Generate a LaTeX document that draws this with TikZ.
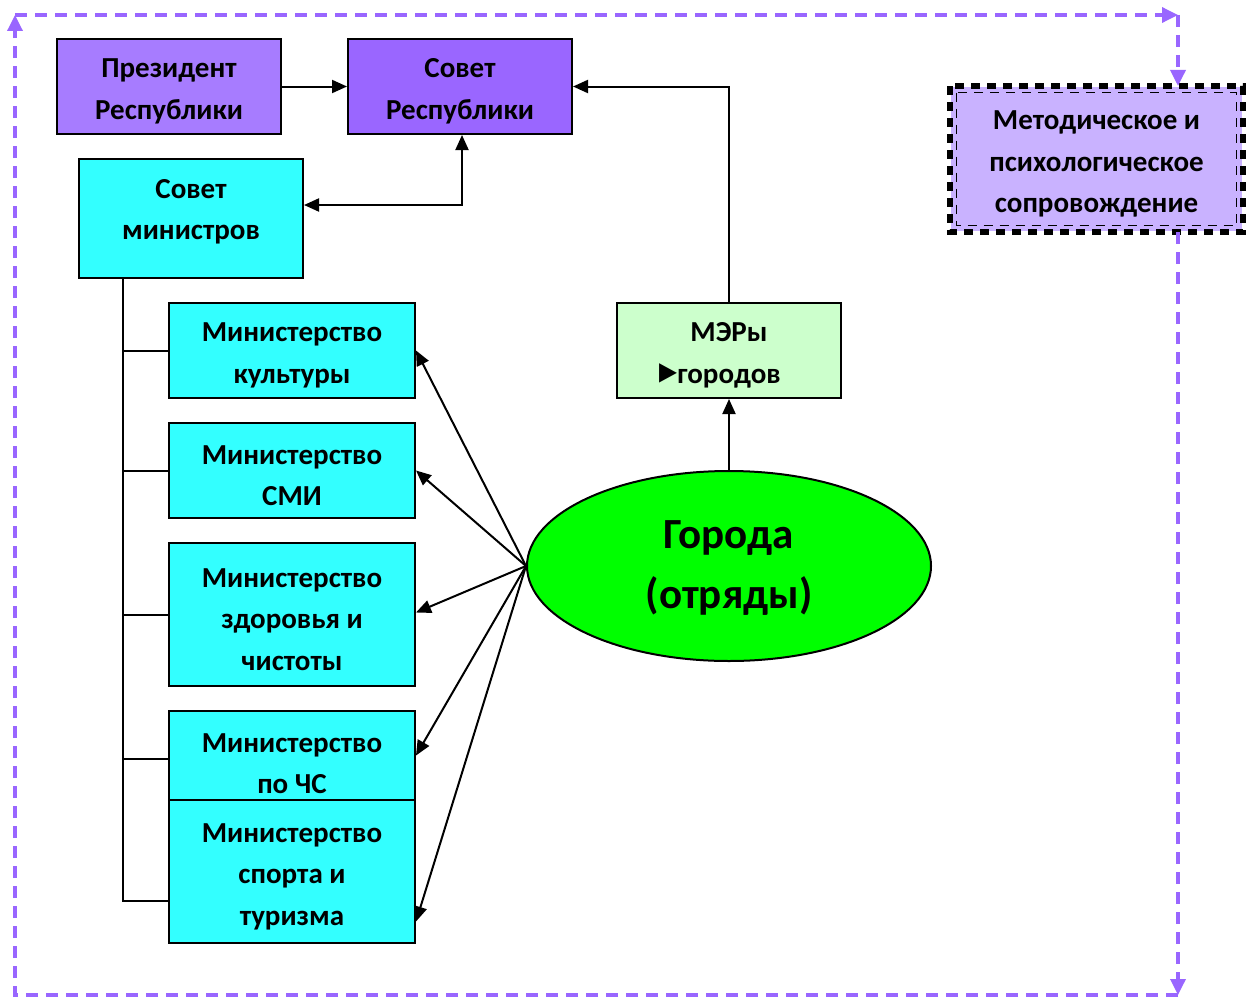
\documentclass[tikz,border=0pt]{standalone}
\usepackage{fontspec}
\setmainfont{Carlito}
\newfontfamily\dejavu{DejaVu Sans}
\usetikzlibrary{arrows.meta,shapes.geometric}
\definecolor{presfill}{HTML}{A77CFF}
\definecolor{sovfill}{HTML}{9A66FF}
\definecolor{cyanfill}{HTML}{33FFFF}
\definecolor{merfill}{HTML}{CCFFCC}
\definecolor{ellfill}{HTML}{00FF00}
\definecolor{metfill}{HTML}{C9B2FF}
\definecolor{loopcol}{HTML}{9966FF}
\begin{document}
\begin{tikzpicture}[x=1pt,y=-1pt,
  txt/.style={font=\fontsize{29}{41.5}\selectfont\bfseries, align=center, inner sep=0pt},
  plainbox/.style={draw=black, line width=2pt, minimum width=224pt, minimum height=95pt, inner sep=0pt},
  box/.style={plainbox, label={[txt, yshift=-5pt]center:#1}},
  mbox/.style={box={#1}, fill=cyanfill, minimum width=246pt},
  arr/.style={line width=2pt, -{Triangle[length=15pt,width=13pt]}},
  loop/.style={draw=loopcol, line width=3.4pt, dash pattern=on 12pt off 8pt, -{Triangle[length=16pt,width=15pt]}},
  dblframe/.style={draw=black, dash pattern=on 9pt off 7pt}]
\useasboundingbox (0,0) rectangle (1247,998);

% top boxes
\node[box={Президент\\Республики}, fill=presfill] (pres) at (169,86.5) {};
\node[box={Совет\\Республики}, fill=sovfill] (sr) at (460,86.5) {};
\node[plainbox, fill=cyanfill, minimum height=119pt] (sm) at (191,218.5) {};
\node[txt] (smt) at ([yshift=6.5pt]sm.center) {Совет\\министров};

% ministries
\node[mbox={Министерство\\культуры}] (kult) at (292,350.5) {};
\node[mbox={Министерство\\СМИ}] (smi) at (292,470.5) {};
\node[mbox={Министерство\\здоровья и\\чистоты}, minimum height=143pt] (zdr) at (292,614.5) {};
\node[mbox={Министерство\\по ЧС}] (chs) at (292,758.5) {};
\node[mbox={Министерство\\спорта и\\туризма}, minimum height=143pt] (sport) at (292,871.5) {};

% mayors and cities
\node[box={МЭРы\\{\dejavu\fontsize{30}{41}\selectfont\scalebox{0.78}[1.3]{►}}городов\hspace*{18pt}}, fill=merfill] (mer) at (729,350.5) {};
\node[ellipse, draw=black, line width=2pt, fill=ellfill, minimum width=404pt, minimum height=190pt, inner sep=0pt] (ell) at (729,566) {};
\node[font=\fontsize{43}{60}\selectfont\bfseries, align=center, inner sep=0pt] (ellt) at ([yshift=-2pt]ell.center) {Города\\(отряды)};

% methodical box
\node[box={Методическое и\\психологическое\\сопровождение}, draw=none, fill=metfill, minimum width=291pt, minimum height=144pt] (met) at (1096.5,159) {};
\draw[dblframe, line width=5.5pt] (met.north west) rectangle (met.south east);
\draw[dblframe, line width=1.4pt] ([shift={(6.5,6.5)}]met.north west) rectangle ([shift={(-6.5,-6.5)}]met.south east);

% connectors
\draw[arr] (pres.east) -- (sr.west);
\draw[arr, {Triangle[length=15pt,width=13pt]}-{Triangle[length=15pt,width=13pt]}] ([yshift=13.5pt]sm.east) -| ([xshift=2pt]sr.south);
\draw[arr] (mer.north) |- (sr.east);
\draw[arr] (ell.north) -- (mer.south);

\coordinate (t0) at ([xshift=45pt]sm.south west);
\coordinate (tb) at ([yshift=-29.5pt]sport.west);
\draw[line width=2pt] (t0) |- (tb);
\draw[line width=2pt] (t0 |- kult.west) -- (kult.west);
\draw[line width=2pt] (t0 |- smi.west) -- (smi.west);
\draw[line width=2pt] (t0 |- zdr.west) -- (zdr.west);
\draw[line width=2pt] (t0 |- chs.west) -- (chs.west);

\draw[arr] (ell.west) -- (kult.east);
\draw[arr] (ell.west) -- (smi.east);
\draw[arr] (ell.west) -- ([yshift=2pt]zdr.east);
\draw[arr] (ell.west) -- ([yshift=3pt]chs.east);
\draw[arr] (ell.west) -- ([yshift=-50pt]sport.east);

% purple dashed loop
\coordinate (c1) at (15,995);
\coordinate (c2) at (15,15);
\coordinate (c3) at (1178,15);
\coordinate (c4) at (1178,995);
\draw[loop] (c3 |- met.south) -- (c4);
\draw[loop] (c4) -- (c1) -- (c2);
\draw[loop] (c2) -- (c3);
\draw[loop] (c3) -- (c3 |- met.north);
\end{tikzpicture}
\end{document}
